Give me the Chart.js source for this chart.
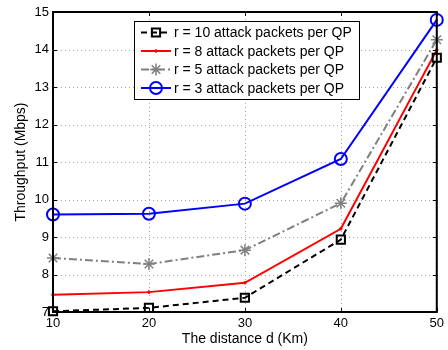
<!DOCTYPE html>
<html><head><meta charset="utf-8">
<script src="https://cdn.jsdelivr.net/npm/chart.js@4/dist/chart.umd.min.js"></script>
<style>html,body{margin:0;padding:0;background:#fff;}#wrap{width:448px;height:350px;position:relative;}</style>
</head><body><div id="wrap"><canvas id="c" width="448" height="350"></canvas></div>
<script>
const distances = [10, 20, 30, 40, 50];
const r10 = [7.02, 7.11, 7.38, 8.93, 13.78];
const r8  = [7.46, 7.53, 7.78, 9.22, 13.99];
const r5  = [8.44, 8.28, 8.65, 9.90, 14.26];
const r3  = [9.60, 9.62, 9.89, 11.08, 14.79];
const seriesLabels = ['r = 10 attack packets per QP','r = 8 attack packets per QP','r = 5 attack packets per QP','r = 3 attack packets per QP'];
const yTicks = [7,8,9,10,11,12,13,14,15];
const xTitle = 'The distance d (Km)';
const yTitle = 'Throughput (Mbps)';

const FONT = '"Liberation Sans", Arial, sans-serif';
const styles = [
  {color:'#000000', dash:[6,4], pointStyle:'rect', radius:5.8, fill:false, bw:2},
  {color:'#ff0000', dash:[], pointStyle:'circle', radius:1.3, fill:true, bw:1},
  {color:'#808080', dash:[8,3,2,3], pointStyle:'star', radius:6, fill:false, bw:1.5},
  {color:'#0000ff', dash:[], pointStyle:'circle', radius:6, fill:false, bw:2}
];
const allData = [r10, r8, r5, r3];
const datasets = allData.map((d,i)=>({
  label: seriesLabels[i],
  data: distances.map((x,j)=>({x:x,y:d[j]})),
  borderColor: styles[i].color,
  backgroundColor: styles[i].fill ? styles[i].color : 'rgba(0,0,0,0)',
  borderDash: styles[i].dash,
  borderWidth: 2,
  pointStyle: styles[i].pointStyle,
  pointRadius: styles[i].radius,
  pointBorderWidth: styles[i].bw,
  pointBorderColor: styles[i].color,
  pointBackgroundColor: styles[i].fill ? styles[i].color : 'rgba(0,0,0,0)',
  tension: 0,
  clip: false
}));

const gridPlugin = {
  id:'dotgrid',
  beforeDatasetsDraw(chart){
    const ctx = chart.ctx, a = chart.chartArea, xs = chart.scales.x, ys = chart.scales.y;
    ctx.save();
    ctx.strokeStyle='#a8a8a8'; ctx.lineWidth=1; ctx.setLineDash([1,3]);
    distances.forEach(v=>{const px=Math.round(xs.getPixelForValue(v))+0.5;
      ctx.beginPath();ctx.moveTo(px,a.bottom);ctx.lineTo(px,a.top);ctx.stroke();});
    yTicks.forEach(v=>{const py=Math.round(ys.getPixelForValue(v))+0.5;
      ctx.beginPath();ctx.moveTo(a.left,py);ctx.lineTo(a.right,py);ctx.stroke();});
    ctx.restore();
  }
};

const framePlugin = {
  id:'frame',
  afterDraw(chart){
    const ctx = chart.ctx, a = chart.chartArea;
    ctx.save();
    ctx.strokeStyle='#000'; ctx.lineWidth=1; ctx.setLineDash([]);
    const xs = chart.scales.x, ys = chart.scales.y;
    distances.forEach(v=>{const px=Math.round(xs.getPixelForValue(v))+0.5;
      ctx.beginPath();ctx.moveTo(px,a.bottom);ctx.lineTo(px,a.bottom-4);ctx.moveTo(px,a.top);ctx.lineTo(px,a.top+4);ctx.stroke();});
    yTicks.forEach(v=>{const py=Math.round(ys.getPixelForValue(v))+0.5;
      ctx.beginPath();ctx.moveTo(a.left,py);ctx.lineTo(a.left+4,py);ctx.moveTo(a.right,py);ctx.lineTo(a.right-4,py);ctx.stroke();});
    ctx.lineWidth=2;
    ctx.strokeRect(a.left, a.top, a.right-a.left, a.bottom-a.top);
    // legend
    const bx=134, by=21, bw=225, bh=78;
    ctx.fillStyle='#fff'; ctx.fillRect(bx,by,bw,bh);
    ctx.lineWidth=1; ctx.strokeStyle='#000'; ctx.strokeRect(bx+0.5,by+0.5,bw,bh);
    ctx.font='14px '+FONT; ctx.textBaseline='middle'; ctx.textAlign='left';
    for(let i=0;i<4;i++){
      const y = by+11.5+i*18.5, st = styles[i];
      ctx.strokeStyle=st.color; ctx.lineWidth=2; ctx.setLineDash(st.dash);
      ctx.beginPath(); ctx.moveTo(bx+7,y); ctx.lineTo(bx+37,y); ctx.stroke();
      ctx.setLineDash([]);
      ctx.strokeStyle=st.color;
      ctx.fillStyle = st.fill ? st.color : 'rgba(0,0,0,0)';
      ctx.lineWidth = st.bw;
      Chart.helpers.drawPoint(ctx,{pointStyle:st.pointStyle,radius:st.radius,rotation:0,borderWidth:st.bw},bx+22,y);
      ctx.fillStyle='#000';
      ctx.fillText(seriesLabels[i], bx+40, y+1);
    }
    ctx.restore();
  }
};

new Chart(document.getElementById('c'), {
  type:'line',
  data:{datasets},
  options:{
    responsive:false, animation:false,
    layout:{padding:{top:12,right:7,left:13,bottom:2}},
    plugins:{legend:{display:false}, tooltip:{enabled:false}},
    scales:{
      x:{type:'linear', min:10, max:50,
        afterBuildTicks(s){s.ticks=distances.map(v=>({value:v}));},
        afterFit(s){s.height=36;},
        grid:{display:false, drawTicks:false},
        border:{display:false},
        ticks:{color:'#000', font:{family:FONT,size:13}, padding:4, maxRotation:0, autoSkip:false},
        title:{display:true, text:xTitle, color:'#000', font:{family:FONT,size:14}, padding:{top:0,bottom:0}}
      },
      y:{type:'linear', min:7, max:15,
        afterBuildTicks(s){s.ticks=yTicks.map(v=>({value:v}));},
        afterFit(s){s.width=40;},
        grid:{display:false, drawTicks:false},
        border:{display:false},
        ticks:{color:'#000', font:{family:FONT,size:13}, padding:4},
        title:{display:true, text:yTitle, color:'#000', font:{family:FONT,size:14}, padding:{top:0,bottom:0}}
      }
    }
  },
  plugins:[gridPlugin, framePlugin]
});
</script></body></html>
